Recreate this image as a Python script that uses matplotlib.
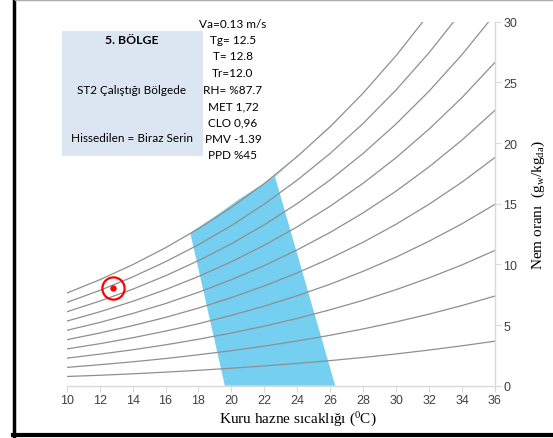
import numpy as np
import matplotlib.pyplot as plt
from matplotlib.lines import Line2D
from matplotlib.patches import Rectangle

# kuru hazne sicakligi (C)
temps = [10, 12, 14, 16, 18, 20, 22, 24, 26, 28, 30, 32, 34, 36]

# nem orani (g/kg) for each RH curve
rh_10 = [0.76, 0.86, 0.98, 1.12, 1.27, 1.44, 1.63, 1.84, 2.07, 2.33, 2.62, 2.94, 3.29, 3.67]
rh_20 = [1.51, 1.73, 1.97, 2.24, 2.55, 2.89, 3.26, 3.69, 4.16, 4.68, 5.26, 5.90, 6.61, 7.39]
rh_30 = [2.27, 2.60, 2.96, 3.37, 3.83, 4.34, 4.91, 5.55, 6.26, 7.04, 7.92, 8.89, 9.96, 11.15]
rh_40 = [3.03, 3.46, 3.95, 4.50, 5.11, 5.80, 6.56, 7.42, 8.37, 9.43, 10.60, 11.91, 13.35, 14.95]
rh_50 = [3.79, 4.34, 4.95, 5.63, 6.40, 7.26, 8.23, 9.30, 10.50, 11.83, 13.31, 14.96, 16.78, 18.81]
rh_60 = [4.56, 5.21, 5.95, 6.77, 7.70, 8.74, 9.90, 11.20, 12.64, 14.25, 16.04, 18.04, 20.25, 22.70]
rh_70 = [5.32, 6.09, 6.95, 7.92, 9.00, 10.22, 11.58, 13.10, 14.80, 16.69, 18.80, 21.15, 23.75, 26.65]
rh_80 = [6.09, 6.97, 7.95, 9.06, 10.31, 11.70, 13.27, 15.02, 16.97, 19.15, 21.58, 24.28, 27.29, 30.64]
rh_90 = [6.86, 7.85, 8.96, 10.22, 11.62, 13.20, 14.97, 16.95, 19.15, 21.62, 24.38, 27.45, 30.87, 34.69]
rh_100 = [7.63, 8.73, 9.97, 11.37, 12.94, 14.70, 16.67, 18.89, 21.35, 24.12, 27.21, 30.65, 34.50, 38.78]
curves = [rh_10, rh_20, rh_30, rh_40, rh_50, rh_60, rh_70, rh_80, rh_90, rh_100]

# konfor bolgesi
zone_t = [19.6, 17.5, 19.0, 20.5, 22.0, 22.7, 24.0, 25.5, 26.8, 22.65, 26.3]
zone_w = [0.0, 12.6, 13.95, 15.4, 16.7, 17.35, 18.95, 20.75, 22.45, 17.2, 0.0]

# olcum noktasi
point_t = 12.8
point_w = 8.05

info_lines = ["Va=0.13 m/s", "Tg= 12.5", "T= 12.8", "Tr=12.0", "RH= %87.7",
              "MET 1,72", "CLO 0,96", "PMV -1.39", "PPD %45"]

fig = plt.figure(figsize=(5.53, 4.39), dpi=100)
ax = fig.add_axes([0.1206, 0.1191, 0.7745, 0.8292])

ax.fill(zone_t, zone_w, color="#74CFF0", lw=0, zorder=1)
for c in curves:
    ax.plot(temps, c, color="#8f8f8f", lw=0.9, zorder=2)

ax.plot(point_t, point_w, "o", ms=16, mfc="none", mec="#ff0000", mew=1.6, zorder=4)
ax.plot(point_t, point_w, "o", ms=3.6, color="#ff0000", zorder=4)

ax.set_xlim(10, 36)
ax.set_ylim(0, 30)
ax.set_xticks(range(10, 37, 2))
ax.set_yticks(range(0, 31, 5))
ax.yaxis.tick_right()
for s in ["top", "left"]:
    ax.spines[s].set_visible(False)
for s in ["bottom", "right"]:
    ax.spines[s].set_color("#d9d9d9")
    ax.spines[s].set_linewidth(1.0)
ax.tick_params(axis="both", colors="#d9d9d9", labelcolor="#404040", length=4,
               labelsize=9, pad=2)
for lab in ax.get_xticklabels() + ax.get_yticklabels():
    lab.set_fontfamily("Liberation Sans")

fig.text(0.539, 0.043, "Kuru hazne sıcaklığı ($\\mathregular{^{0}}$C)",
         family="Liberation Serif", fontsize=11, ha="center", va="center")
fig.text(0.973, 0.533, "Nem oranı  ($\\mathregular{g_{w}/kg_{da}}$)",
         family="Liberation Serif", fontsize=11, ha="center", va="center", rotation=90)

# bilgi kutusu
fig.patches.append(Rectangle((62 / 553, 1 - 157 / 439), 141 / 553, 125 / 439,
                             transform=fig.transFigure, facecolor="#dce6f2",
                             edgecolor="none", zorder=0))
fig.text(132 / 553, 1 - 40 / 439, "5. BÖLGE", family="Lato", weight="bold",
         fontsize=8.8, ha="center", va="center")
fig.text(132 / 553, 1 - 90 / 439, "ST2 Çalıştığı Bölgede", family="Lato",
         fontsize=8.5, ha="center", va="center")
fig.text(132 / 553, 1 - 138 / 439, "Hissedilen = Biraz Serin", family="Lato",
         fontsize=8.5, ha="center", va="center")
for i, line in enumerate(info_lines):
    fig.text(233 / 553, 1 - (24 + 16.5 * i) / 439, line, family="Lato",
             fontsize=8.5, ha="center", va="center")

# cerceve
fig.add_artist(Line2D([14 / 553, 14 / 553], [0, 1], color="black", lw=2.5,
                      transform=fig.transFigure))
fig.add_artist(Line2D([13 / 553, 1], [3 / 439, 3 / 439], color="black", lw=3,
                      transform=fig.transFigure))
fig.add_artist(Line2D([15 / 553, 1], [1 - 0.5 / 439, 1 - 0.5 / 439], color="#aaaaaa",
                      lw=1, transform=fig.transFigure))

fig.savefig("out.png", dpi=100)
